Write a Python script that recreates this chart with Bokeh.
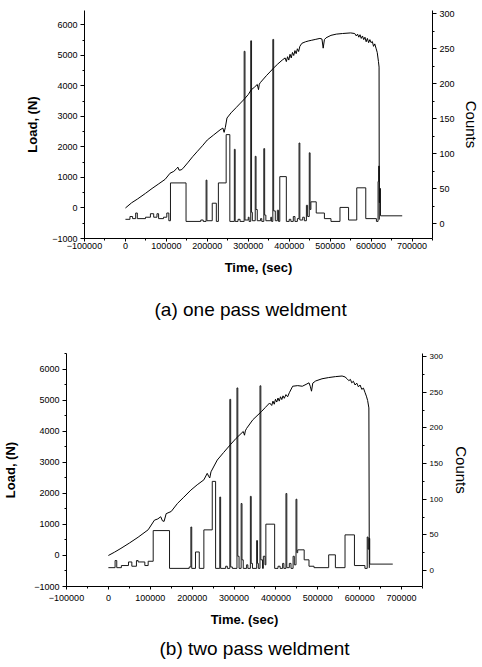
from bokeh.plotting import figure
from bokeh.models import Range1d, LinearAxis, SingleIntervalTicker, BasicTickFormatter, Title
from bokeh.embed import file_html
from bokeh.resources import INLINE

# ---------------- data: panel (a) one pass weldment ----------------
load_a_t = [0, 15000, 30000, 49000, 65000, 80000, 97000, 109000, 118000, 125000,
            128000, 131000, 136000, 140000, 152000, 164000, 176000, 188000, 200000, 215000,
            231000, 238000, 241000, 244000, 248000, 258000, 271000, 281000, 291000, 300000,
            307000, 315000, 322000, 325000, 327000, 330000, 345000, 353000, 362000, 372000,
            383000, 390000, 393000, 396000, 399000, 402000, 405000, 408000, 411000, 414000,
            417000, 420000, 423000, 426000, 431000, 440000, 448000, 455000, 465000, 475000,
            480000, 483000, 486000, 490000, 502000, 515000, 530000, 550000, 560000, 564000,
            567000, 570000, 573000, 576000, 579000, 582000, 585000, 588000, 591000, 594000,
            597000, 600000, 603000, 606000, 609000, 612000, 615000, 618000, 619500, 620000]
load_a = [0, 170, 300, 480, 640, 780, 940, 1140, 1200, 1290,
          1340, 1240, 1250, 1290, 1480, 1680, 1860, 2040, 2230, 2390,
          2560, 2620, 2480, 2640, 2950, 3120, 3300, 3440, 3580, 3720,
          3870, 3960, 4050, 3880, 4060, 4120, 4350, 4460, 4590, 4720,
          4850, 4920, 4800, 4960, 4850, 5040, 4920, 5100, 5000, 5160,
          5060, 5220, 5130, 5300, 5400, 5450, 5480, 5500, 5530, 5560,
          5540, 5240, 5520, 5580, 5660, 5700, 5720, 5740, 5720, 5640,
          5700, 5600, 5680, 5560, 5640, 5520, 5600, 5450, 5560, 5420,
          5520, 5420, 5460, 5300, 5380, 5240, 5100, 4800, 4620, -380]
counts_a_t = [0, 11000, 17500, 25000, 29000, 49000, 61000, 69000, 77000, 81000,
              93000, 101000, 106000, 110000, 148000, 184000, 190000, 197000, 199000, 212000,
              222000, 227000, 246000, 255000, 266000, 268000, 275000, 280000, 290000, 292000,
              300000, 302000, 306000, 308000, 310000, 317000, 319000, 322000, 330000, 333000,
              338000, 340000, 343000, 355000, 357000, 360000, 362000, 366000, 371000, 374000,
              377000, 393000, 400000, 404000, 410000, 414000, 420000, 424000, 426000, 433000,
              437000, 442000, 445000, 449000, 451000, 453000, 466000, 486000, 502000, 524000,
              545000, 565000, 587000, 613000, 617000, 618500, 620000, 621500, 623000, 676000]
counts_a = [6, 10, 7, 15, 7, 9, 14, 9, 14, 7,
            9, 15, 4, 58, 3, 5, 3, 62, 4, 29,
            3, 58, 127, 3, 106, 3, 6, 3, 246, 5,
            9, 3, 261, 16, 4, 96, 20, 4, 7, 3,
            107, 12, 4, 9, 3, 263, 18, 4, 19, 3,
            67, 3, 6, 3, 10, 3, 7, 115, 5, 9,
            4, 26, 10, 101, 20, 31, 15, 7, 3, 23,
            5, 51, 7, 3, 60, 82, 30, 50, 11, 11]

# ---------------- data: panel (b) two pass weldment ----------------
load_b_t = [0, 15000, 30000, 50000, 71000, 95000, 110000, 118000, 125000, 129000,
            133000, 138000, 150000, 165000, 180000, 197000, 212000, 228000, 236000, 240000,
            242000, 245000, 260000, 275000, 291000, 305000, 322000, 325000, 327000, 330000,
            345000, 366000, 375000, 385000, 390000, 393000, 396000, 399000, 402000, 405000,
            408000, 411000, 414000, 417000, 420000, 424000, 428000, 432000, 440000, 452000,
            463000, 472000, 479000, 482000, 485000, 488000, 495000, 510000, 526000, 542000,
            558000, 565000, 570000, 574000, 578000, 581000, 585000, 589000, 593000, 597000,
            601000, 605000, 609000, 613000, 616000, 619000, 622000, 623000]
load_b = [0, 110, 230, 400, 590, 830, 1140, 1180, 1250, 1120,
          1100, 1350, 1420, 1680, 1880, 2110, 2280, 2440, 2650, 2540,
          2500, 2700, 3080, 3320, 3570, 3780, 4000, 3880, 4020, 4100,
          4380, 4650, 4780, 4920, 4840, 4980, 4880, 5040, 4950, 5080,
          4980, 5120, 5030, 5150, 5070, 5190, 5120, 5250, 5460, 5480,
          5460, 5520, 5570, 5460, 5300, 5560, 5630, 5700, 5740, 5770,
          5790, 5760, 5700, 5640, 5680, 5570, 5620, 5500, 5560, 5440,
          5500, 5360, 5400, 5250, 5140, 5000, 4760, -400]
counts_b_t = [0, 16000, 20000, 31000, 48000, 56000, 67000, 71000, 87000, 95000,
              107000, 146000, 193000, 197000, 199000, 208000, 217000, 228000, 248000, 256000,
              266000, 268000, 280000, 284000, 290000, 292000, 296000, 307000, 309000, 312000,
              317000, 319000, 322000, 330000, 333000, 339000, 341000, 344000, 354000, 356000,
              358000, 362000, 364000, 368000, 370000, 374000, 376000, 397000, 405000, 410000,
              416000, 419000, 424000, 426000, 432000, 436000, 441000, 444000, 448000, 450000,
              452000, 467500, 479000, 491000, 526000, 542000, 565000, 587500, 612500, 618000,
              620000, 622000, 624000, 679000]
counts_b = [4, 14, 4, 7, 12, 6, 14, 12, 7, 13,
            56, 3, 5, 61, 3, 26, 3, 57, 125, 3,
            103, 3, 6, 3, 240, 5, 3, 256, 20, 3,
            94, 15, 3, 8, 3, 104, 10, 3, 42, 10,
            3, 259, 15, 3, 20, 8, 65, 3, 6, 3,
            10, 3, 108, 4, 10, 3, 20, 8, 100, 25,
            29, 15, 6, 4, 22, 4, 50, 7, 3, 47,
            30, 45, 9, 9]

x_label = ["Time, (sec)", "Time. (sec)"]
y_label = "Load, (N)"
y2_label = "Counts"
captions = ["(a) one pass weldment", "(b) two pass weldment"]

FONT = "Liberation Sans"


def panel(lt, lv, ct, cv, xlab, cap, width, height, mb, yr, cr, cap_offset, cap_standoff,
          left_standoff, right_standoff, right_font, x_label_standoff, x_tick_standoff):
    p = figure(width=width, height=height, output_backend="svg", toolbar_location=None,
               x_range=Range1d(-100000, 750000), y_range=Range1d(*yr),
               min_border_left=mb[0], min_border_right=mb[1],
               min_border_top=mb[2], min_border_bottom=mb[3])
    p.extra_y_ranges = {"counts": Range1d(*cr)}
    p.outline_line_color = None
    p.xgrid.visible = False
    p.ygrid.visible = False
    p.background_fill_color = "white"
    p.border_fill_color = "white"

    p.step(ct, cv, mode="after", line_color="#1a1a1a", line_width=1, y_range_name="counts")
    p.line(lt, lv, line_color="black", line_width=1)

    xa = p.xaxis[0]
    xa.ticker = SingleIntervalTicker(interval=100000, num_minor_ticks=2)
    xa.formatter = BasicTickFormatter(use_scientific=False)
    xa.axis_label = xlab
    ya = p.yaxis[0]
    ya.ticker = SingleIntervalTicker(interval=1000, num_minor_ticks=2)
    ya.formatter = BasicTickFormatter(use_scientific=False)
    ya.axis_label = y_label
    ya.axis_label_standoff = left_standoff

    ra = LinearAxis(y_range_name="counts",
                    ticker=SingleIntervalTicker(interval=50, num_minor_ticks=2),
                    axis_label=y2_label)
    p.add_layout(ra, "right")

    for ax in (xa, ya, ra):
        ax.axis_line_color = "black"
        ax.axis_line_width = 1
        ax.major_tick_line_color = "black"
        ax.minor_tick_line_color = "black"
        ax.major_tick_out = 4
        ax.major_tick_in = 0
        ax.minor_tick_out = 2
        ax.minor_tick_in = 0
        ax.major_label_text_font = FONT
        ax.major_label_text_font_size = "9px"
        ax.major_label_text_color = "black"
        ax.major_label_standoff = 3
        ax.axis_label_text_font = FONT
        ax.axis_label_text_color = "black"
    xa.axis_label_text_font_size = "13px"
    xa.axis_label_text_font_style = "bold"
    xa.axis_label_standoff = x_label_standoff
    xa.major_label_standoff = x_tick_standoff
    xa.major_tick_out = 3
    ya.axis_label_text_font_size = "13px"
    ya.axis_label_text_font_style = "bold"
    ra.axis_label_text_font_size = "15px"
    ra.axis_label_text_font_style = "normal"
    ra.axis_label_standoff = right_standoff
    ra.major_label_text_font_size = right_font

    t = Title(text=cap, align="left", offset=cap_offset, text_font=FONT,
              text_font_size="19px", text_font_style="normal", text_color="black",
              standoff=cap_standoff)
    p.add_layout(t, "below")
    return p


pa = panel(load_a_t, load_a, counts_a_t, counts_a, x_label[0], captions[0],
           482, 340, (84, 42, 10, 102), (-1000, 6475), (-21.4, 304.3), 70, 38,
           9, 5, "9px", 8, 1)
pb = panel(load_b_t, load_b, counts_b_t, counts_b, x_label[1], captions[1],
           482, 327, (62, 60, 13, 81), (-1000, 6516), (-22.4, 304.3), 93, 12,
           13, 7, "8px", 8, 5)

open("out.html", "w").write(file_html([pa, pb], INLINE))
